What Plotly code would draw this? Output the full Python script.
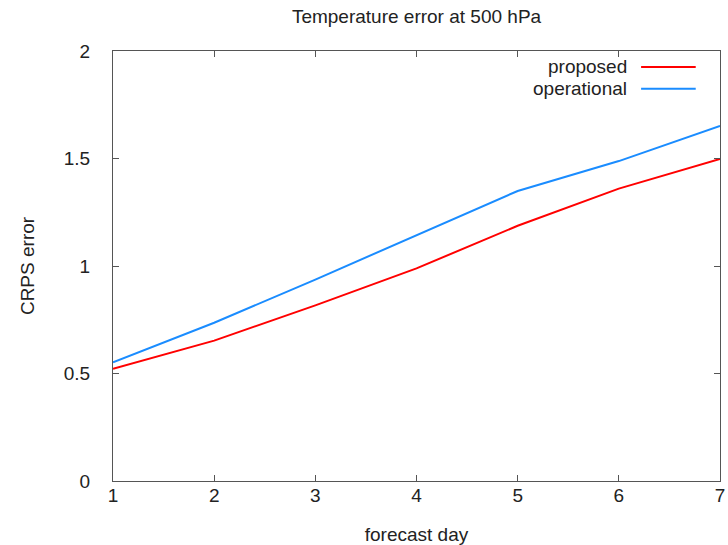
import plotly.graph_objects as go

days = [1, 2, 3, 4, 5, 6, 7]
proposed = [0.522, 0.653, 0.817, 0.989, 1.187, 1.360, 1.498]
operational = [0.552, 0.736, 0.937, 1.143, 1.349, 1.488, 1.652]
series_names = ["proposed", "operational"]
series_colors = ["#ff0000", "#1a8cff"]
x_ticks = [1, 2, 3, 4, 5, 6, 7]
y_ticks = [0, 0.5, 1, 1.5, 2]
y_tick_labels = ["0", "0.5", "1", "1.5", "2"]

FONT = "Liberation Sans"
TXT = "#222222"
AX = "#555555"
FS = 19

fig = go.Figure()
for name, vals, col in zip(series_names, [proposed, operational], series_colors):
    fig.add_trace(go.Scatter(x=days, y=vals, mode="lines", name=name,
                             line=dict(color=col, width=2), showlegend=False))

# manual gnuplot-style legend (text then line sample)
leg_y = [0.963, 0.912]
for name, col, yy in zip(series_names, series_colors, leg_y):
    fig.add_annotation(x=0.850, y=yy, xref="paper", yref="paper", text=name,
                       showarrow=False, xanchor="right", yanchor="middle",
                       font=dict(family=FONT, size=FS, color=TXT))
    fig.add_shape(type="line", xref="paper", yref="paper", x0=0.870, x1=0.960,
                  y0=yy, y1=yy, line=dict(color=col, width=2))

fig.update_layout(
    width=728, height=545,
    margin=dict(l=113, r=8, t=51, b=64, autoexpand=False),
    paper_bgcolor="white", plot_bgcolor="white",
    font=dict(family=FONT, size=FS, color=TXT),
    title=dict(text="Temperature error at 500 hPa", x=0.5, xref="paper",
               y=0.97, yref="container", yanchor="middle",
               font=dict(family=FONT, size=19, color=TXT)),
)
fig.update_xaxes(range=[1, 7], tickvals=x_ticks, ticks="inside", ticklen=6,
                 tickcolor=AX, showline=True, linecolor=AX, linewidth=1,
                 mirror="ticks", showgrid=False, zeroline=False,
                 automargin=False, ticklabeloverflow="allow",
                 ticklabelstandoff=-3,
                 title=dict(text="forecast day", standoff=28,
                            font=dict(family=FONT, size=FS, color=TXT)))
fig.update_yaxes(range=[0, 2], tickvals=y_ticks, ticktext=y_tick_labels,
                 ticks="inside", ticklen=6, tickcolor=AX, showline=True,
                 linecolor=AX, linewidth=1, mirror="ticks", showgrid=False,
                 zeroline=False, automargin=False, ticklabelstandoff=18,
                 title=dict(text="CRPS error", standoff=24,
                            font=dict(family=FONT, size=FS, color=TXT)))

fig.write_html("out.html")
